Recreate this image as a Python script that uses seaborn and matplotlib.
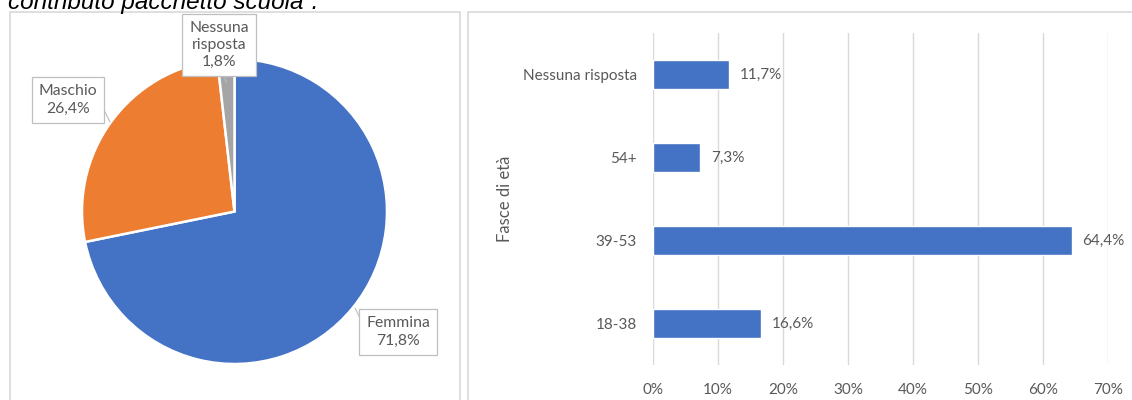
import matplotlib.pyplot as plt
import matplotlib.patches as patches
import seaborn as sns
import pandas as pd

# data
genere = ['Femmina', 'Maschio', 'Nessuna risposta']
genere_pct = [71.8, 26.4, 1.8]
genere_colori = ['#4472C4', '#ED7D31', '#A5A5A5']

fasce = ['Nessuna risposta', '54+', '39-53', '18-38']
fasce_pct = [11.7, 7.3, 64.4, 16.6]
xticks = [0, 10, 20, 30, 40, 50, 60, 70]

sns.set_theme(style='white')
plt.rcParams['font.family'] = ['Lato', 'DejaVu Sans']
TXT = '#595959'
GRID = '#D9D9D9'

W, H = 1132, 400
fig = plt.figure(figsize=(W / 100, H / 100), dpi=100)


def fx(px):
    return px / W


def fy(py):
    return 1 - py / H


# title, cut off at the top of the image (as in the reference)
fig.text(fx(8), fy(8.5), 'contributo pacchetto scuola\u201d.', fontsize=17.5,
         style='italic', family='Liberation Sans', color='black', va='baseline')

# panel frames
for x0, x1 in [(10, 460), (468, 1140)]:
    fig.add_artist(patches.Rectangle((fx(x0), fy(410)), fx(x1 - x0), (410 - 12) / H,
                                     transform=fig.transFigure, fill=False,
                                     edgecolor=GRID, linewidth=1.2, clip_on=False))

# pie
cx, cy, r = 234.5, 211.5, 152.5
ax1 = fig.add_axes([fx(cx - r), fy(cy + r), fx(2 * r), 2 * r / H])
ax1.pie(genere_pct, colors=genere_colori, startangle=90, counterclock=False,
        wedgeprops=dict(edgecolor='white', linewidth=1.8))
ax1.set_xlim(-1, 1)
ax1.set_ylim(-1, 1)
ax1.set_aspect('equal')
ax1.axis('off')

label_pos = {'Femmina': (398, 332), 'Maschio': (68, 100), 'Nessuna risposta': (219, 45)}
pointer = {'Femmina': ((360, 318), (355, 308)), 'Maschio': ((103, 108), (110, 122)),
           'Nessuna risposta': ((225, 78), (226, 82))}
for nome, pct in zip(genere, genere_pct):
    testo = nome.replace(' ', '\n') + '\n' + f'{pct:.1f}%'.replace('.', ',')
    px, py = label_pos[nome]
    (ax_, ay_), (bx_, by_) = pointer[nome]
    fig.add_artist(plt.Line2D([fx(ax_), fx(bx_)], [fy(ay_), fy(by_)],
                              color='#BFBFBF', linewidth=0.8, transform=fig.transFigure))
    fig.text(fx(px), fy(py), testo, ha='center', va='center', fontsize=11.3,
             color=TXT, linespacing=1.3,
             bbox=dict(boxstyle='square,pad=0.45', facecolor='white',
                       edgecolor='#BFBFBF', linewidth=0.9))

# horizontal bars
df = pd.DataFrame({'fascia': fasce, 'pct': [v / 100 for v in fasce_pct]})
ax2 = fig.add_axes([fx(653), fy(365), fx(1108 - 653), (365 - 33) / H])
sns.barplot(data=df, x='pct', y='fascia', orient='h', color='#4472C4',
            saturation=1, width=0.35, ax=ax2, zorder=3)
ax2.set_xlim(0, 0.7)
ax2.set_ylim(3.5, -0.5)
ax2.set_xticks([t / 100 for t in xticks])
ax2.set_xticklabels([f'{t}%' for t in xticks])
ax2.grid(axis='x', color=GRID, linewidth=1, zorder=0)
ax2.grid(axis='y', visible=False)
for s in ax2.spines.values():
    s.set_visible(False)
ax2.tick_params(axis='x', length=0, pad=13, labelsize=11, labelcolor=TXT)
ax2.tick_params(axis='y', length=0, pad=11.5, labelsize=11, labelcolor=TXT)
ax2.set_xlabel('')
ax2.set_ylabel('Fasce di et\u00e0', fontsize=12, color=TXT, labelpad=7)
for i, v in enumerate(fasce_pct):
    ax2.text(v / 100 + 0.016, i, f'{v:.1f}%'.replace('.', ','), va='center',
             ha='left', fontsize=11, color=TXT)

fig.savefig('out.png', dpi=100)
